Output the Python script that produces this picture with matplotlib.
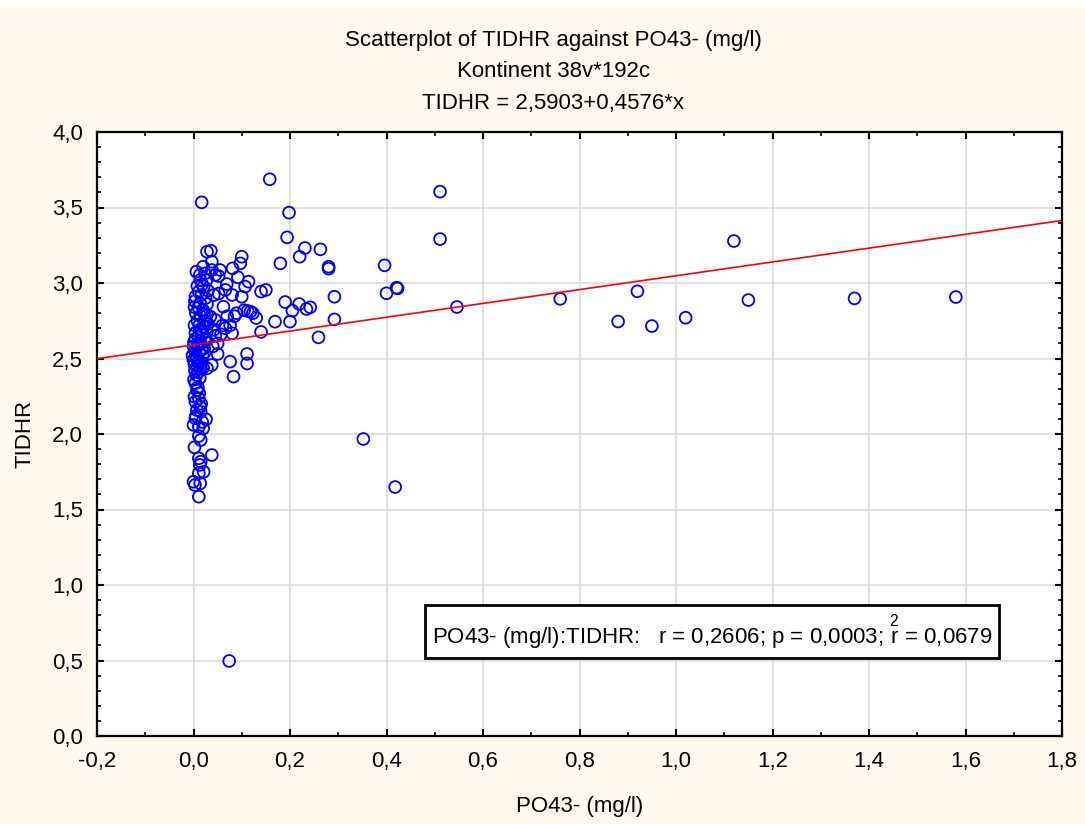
import numpy as np
import matplotlib
matplotlib.use('Agg')
import matplotlib.pyplot as plt
from matplotlib.ticker import MultipleLocator, FuncFormatter
from matplotlib.patches import Rectangle

plt.rcParams['font.family'] = ['Liberation Sans', 'DejaVu Sans']
plt.rcParams['mathtext.fontset'] = 'custom'
plt.rcParams['mathtext.rm'] = 'Liberation Sans'
plt.rcParams['mathtext.it'] = 'Liberation Sans'

#### data

# points well away from x = 0
far_x = [0.158, 0.511, 0.198, 0.511, 0.194, 0.231, 0.220, 0.263, 0.180, 0.280, 0.280,
         0.396, 0.400, 0.421, 0.423, 0.292, 0.140, 0.150, 0.190, 0.205, 0.219, 0.234,
         0.242, 0.200, 0.292, 0.169, 0.130, 0.118, 0.123, 0.140, 0.259, 0.546, 0.352,
         0.418, 0.76, 0.88, 0.92, 0.95, 1.02, 1.12, 1.15, 1.37, 1.58]
far_y = [3.687, 3.605, 3.466, 3.291, 3.302, 3.232, 3.174, 3.223, 3.130, 3.108, 3.095,
         3.117, 2.932, 2.969, 2.964, 2.909, 2.943, 2.954, 2.874, 2.817, 2.861, 2.828,
         2.839, 2.744, 2.759, 2.744, 2.768, 2.810, 2.800, 2.676, 2.640, 2.841, 1.967,
         1.649, 2.895, 2.745, 2.945, 2.715, 2.770, 3.278, 2.887, 2.898, 2.907]

# points between 0.03 and 0.12
mid_x = [0.074, 0.111, 0.111, 0.076, 0.083, 0.050, 0.038, 0.028, 0.038, 0.100, 0.097,
         0.081, 0.114, 0.107, 0.069, 0.066, 0.080, 0.100, 0.089, 0.105, 0.112, 0.062,
         0.076, 0.080, 0.092, 0.055, 0.045, 0.052, 0.038, 0.038, 0.036, 0.028, 0.042,
         0.052, 0.035, 0.045, 0.042, 0.060, 0.070, 0.066, 0.050, 0.057, 0.045, 0.040,
         0.085, 0.017]
mid_y = [0.497, 2.530, 2.467, 2.479, 2.380, 2.530, 2.457, 2.435, 1.861, 3.174, 3.130,
         3.097, 3.009, 2.976, 2.993, 2.954, 2.921, 2.909, 2.800, 2.820, 2.815, 2.843,
         2.720, 2.667, 3.038, 3.086, 3.053, 3.046, 3.086, 3.141, 3.214, 3.207, 2.920,
         2.930, 2.777, 2.755, 2.690, 2.720, 2.780, 2.700, 2.600, 2.660, 2.650, 2.580,
         2.780, 3.534]

# dense column at x ~ 0
col_x = [0.006, 0.020, 0.013, 0.024, 0.014, 0.021, 0.011, 0.004, 0.014, 0.025, 0.030,
         0.018, 0.008, 0.027, 0.003, 0.010, 0.020, 0.028, 0.005, 0.015, 0.024, 0.008,
         0.002, 0.020, 0.013, 0.030, 0.004, 0.018, 0.010, 0.026, 0.001, 0.015, 0.008,
         0.022, 0.003, 0.012, 0.019, 0.005, 0.000, 0.010, 0.017, 0.002, 0.008, 0.014,
         0.003, 0.010, 0.020, 0.006, 0.013, 0.001, 0.025, 0.028, 0.000, -0.002, 0.004,
         0.012, 0.022, 0.016, 0.002, 0.028, 0.018, 0.007, 0.023, 0.009, 0.016,
         0.004, 0.007, 0.002, 0.011, 0.004, 0.014, 0.007, 0.015, 0.026, 0.004,
         0.000, 0.011, 0.020, 0.011, 0.015, 0.002, 0.011, 0.015, 0.013, 0.021,
         0.011, 0.000, 0.003, 0.014, 0.011, 0.009, 0.012, 0.016, 0.005, 0.018]
col_y = [3.075, 3.108, 3.053, 3.064, 3.020, 2.976, 2.943, 2.910, 2.866, 2.900, 2.950,
         2.990, 2.980, 3.020, 2.880, 2.840, 2.820, 2.860, 2.800, 2.780, 2.750, 2.750,
         2.720, 2.710, 2.690, 2.730, 2.670, 2.660, 2.640, 2.630, 2.610, 2.600, 2.580,
         2.570, 2.550, 2.540, 2.520, 2.510, 2.490, 2.480, 2.470, 2.460, 2.450, 2.430,
         2.420, 2.410, 2.440, 2.390, 2.370, 2.360, 2.620, 2.680, 2.580, 2.520, 2.630,
         2.720, 2.800, 2.920, 2.840, 2.790, 2.560, 2.500, 2.540, 2.600, 2.690,
         2.336, 2.290, 2.247, 2.236, 2.214, 2.180, 2.159, 2.148, 2.097, 2.104,
         2.060, 2.048, 2.037, 1.987, 1.960, 1.912, 1.839, 1.817, 1.795, 1.750,
         1.740, 1.684, 1.662, 1.673, 1.585, 2.310, 2.270, 2.200, 2.120, 2.080]

intercept = 2.5903
slope = 0.4576

xticks = np.arange(-0.2, 1.81, 0.2)
yticks = np.arange(0.0, 4.01, 0.5)

title_lines = ['Scatterplot of TIDHR against PO43- (mg/l)',
               'Kontinent 38v*192c',
               'TIDHR = 2,5903+0,4576*x']
stat_text = r'PO43- (mg/l):TIDHR:   r = 0,2606; p = 0,0003; $\overset{2}{\mathrm{r}}$ = 0,0679'

#### plot

bg = '#fffaee'
fs = 16
fig = plt.figure(figsize=(10.85, 8.24), dpi=100, facecolor=bg)
fig.patches.append(Rectangle((0, 1 - 8/824), 1, 8/824, transform=fig.transFigure,
                             facecolor='white', edgecolor='none', zorder=0))
ax = fig.add_axes([97/1085, 1 - 736/824, (1062 - 97)/1085, (736 - 132)/824])
ax.set_facecolor('white')

xs = np.array(far_x + mid_x + col_x)
ys = np.array(far_y + mid_y + col_y)
ax.scatter(xs, ys, s=72, facecolors='none', edgecolors='#0000ff', linewidths=1.3, zorder=3)

xl = np.array([-0.2, 1.8])
ax.plot(xl, intercept + slope * xl, color='#ff0000', lw=1.2, zorder=4)

ax.set_xlim(-0.2, 1.8)
ax.set_ylim(0, 4.0)
ax.set_xticks(xticks)
ax.set_yticks(yticks)
ax.xaxis.set_minor_locator(MultipleLocator(0.1))
ax.yaxis.set_minor_locator(MultipleLocator(0.1))
comma = FuncFormatter(lambda v, p: f'{v:.1f}'.replace('.', ',').replace('-0,0', '0,0'))
ax.xaxis.set_major_formatter(comma)
ax.yaxis.set_major_formatter(comma)
ax.grid(True, which='major', color='#d9d9d9', lw=1.1, zorder=0)
ax.set_axisbelow(True)
ax.tick_params(which='both', direction='in', top=True, right=True, color='black')
ax.tick_params(which='major', length=5, width=1.5, labelsize=fs)
ax.tick_params(which='minor', length=3, width=1.2)
ax.tick_params(axis='x', which='major', pad=11)
ax.tick_params(axis='y', which='major', pad=10)
for sp in ax.spines.values():
    sp.set_linewidth(1.6)
    sp.set_color('black')

ax.set_xlabel('PO43- (mg/l)', fontsize=fs, labelpad=17)
ax.set_ylabel('TIDHR', fontsize=fs, labelpad=12)

for i, line in enumerate(title_lines):
    fig.text(0.51, 0.951 - i * 0.038, line, ha='center', va='center', fontsize=fs)

ax.text(1.075, 0.69, stat_text, ha='center', va='center', fontsize=fs, zorder=5,
        bbox=dict(boxstyle='square,pad=0.3', facecolor='white', edgecolor='black', lw=2))

fig.savefig('out.png', dpi=100, facecolor=bg)
